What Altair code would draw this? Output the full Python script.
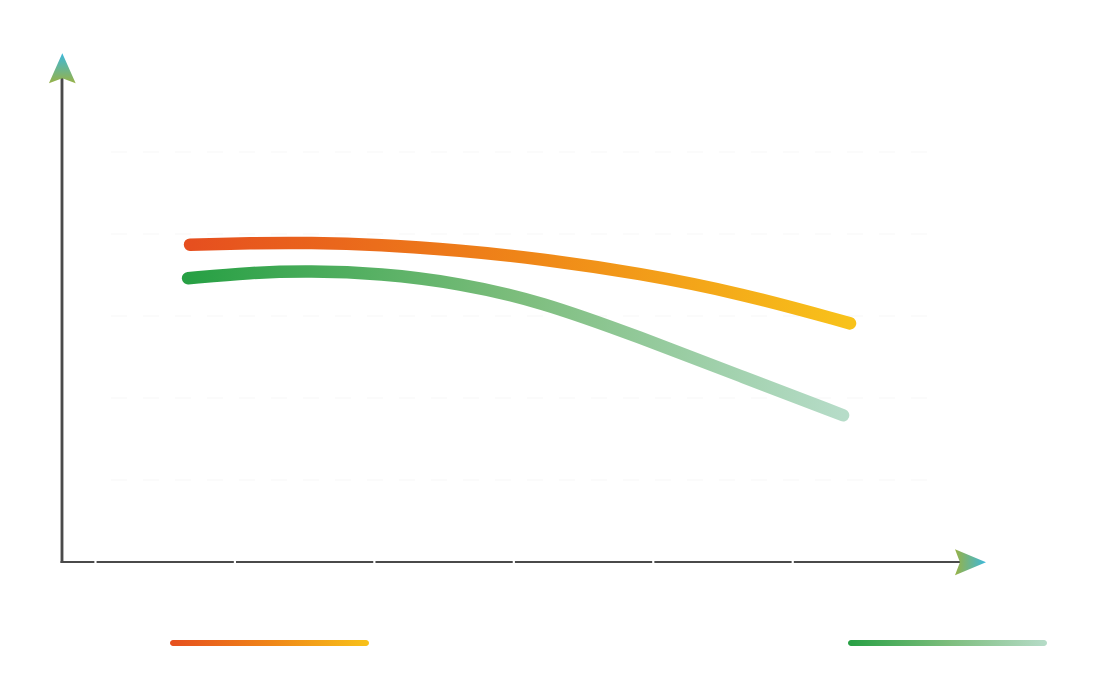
import altair as alt
import pandas as pd

# ---- data ----
x_pos = [1.678, 2.108, 2.538, 3.040, 3.614, 4.188, 4.905, 5.622, 6.411]
x_pos_green = [1.664, 2.108, 2.538, 3.040, 3.614, 4.188, 4.905, 5.622, 6.361]
orange_vals = [38.7, 38.9, 38.95, 38.7, 38.0, 37.0, 35.2, 32.8, 29.1]
green_vals = [34.6, 35.3, 35.5, 35.2, 34.0, 31.8, 27.4, 22.7, 17.9]
x_ticks = [1, 2, 3, 4, 5, 6]
y_grid = [10, 20, 30, 40, 50]

W, H = 912, 492
X_DOMAIN = [0.76, 7.3]
Y_DOMAIN = [0, 60]

xs = alt.Scale(domain=X_DOMAIN, nice=False, zero=False)
ys = alt.Scale(domain=Y_DOMAIN, nice=False, zero=False)

orange_df = pd.DataFrame({"x": x_pos, "y": orange_vals})
green_df = pd.DataFrame({"x": x_pos_green, "y": green_vals})
tick_df = pd.DataFrame({"x": x_ticks})
grid_df = pd.DataFrame({"y": y_grid})

def hgrad(c0, c1, cm=None):
    stops = [alt.GradientStop(color=c0, offset=0)]
    if cm:
        stops.append(alt.GradientStop(color=cm, offset=0.5))
    stops.append(alt.GradientStop(color=c1, offset=1))
    return alt.LinearGradient(gradient="linear", stops=stops, x1=0, x2=1, y1=0, y2=0)

def vgrad(c0, c1):
    return alt.LinearGradient(
        gradient="linear",
        stops=[alt.GradientStop(color=c0, offset=0), alt.GradientStop(color=c1, offset=1)],
        x1=0, x2=0, y1=0, y2=1,
    )

orange_grad = hgrad("#e64f1f", "#f8c21a", "#ef8518")
green_grad = hgrad("#27a044", "#b6dcc8", "#7cbd7c")

noaxis = alt.Axis(domain=False, ticks=False, labels=False, grid=False, title=None)

grid = alt.Chart(grid_df).mark_rule(color="#fafafa", strokeWidth=1.5, strokeDash=[16, 16]).encode(
    y=alt.Y("y:Q", scale=ys, axis=noaxis),
    x=alt.value(49), x2=alt.value(873),
)

y_axis_line = alt.Chart(grid_df).mark_rule(color="#4a4a4a", strokeWidth=2.2).encode(
    x=alt.value(0), y=alt.value(5), y2=alt.value(H + 1.1)
)
x_axis_line = alt.Chart(grid_df).mark_rule(color="#4a4a4a", strokeWidth=2.2).encode(
    x=alt.value(-1.1), x2=alt.value(905), y=alt.value(H)
)

tick_gaps = alt.Chart(tick_df).mark_rule(color="white", strokeWidth=2.2).encode(
    x=alt.X("x:Q", scale=xs, axis=noaxis),
    y=alt.datum(0.6, scale=ys), y2=alt.datum(-0.9),
)

orange_line = alt.Chart(orange_df).mark_line(
    stroke=orange_grad, strokeWidth=12.5, strokeCap="round", interpolate="basis"
).encode(x=alt.X("x:Q", scale=xs, axis=noaxis), y=alt.Y("y:Q", scale=ys, axis=noaxis))

green_line = alt.Chart(green_df).mark_line(
    stroke=green_grad, strokeWidth=12.5, strokeCap="round", interpolate="basis"
).encode(x=alt.X("x:Q", scale=xs, axis=noaxis), y=alt.Y("y:Q", scale=ys, axis=noaxis))

y_arrow = alt.Chart(tick_df.head(1)).mark_point(
    shape="M0,-1L0.89,1L0,0.67L-0.89,1Z", filled=True, size=900, opacity=1,
    fill=vgrad("#3cb8dc", "#98b246"), strokeWidth=0,
).encode(x=alt.value(0.3), y=alt.value(-1.7))

x_arrow = alt.Chart(tick_df.head(1)).mark_point(
    shape="M1,0L-1,0.84L-0.68,0L-1,-0.84Z", filled=True, size=961, opacity=1,
    fill=hgrad("#98b246", "#3cb8dc"), strokeWidth=0,
).encode(x=alt.value(908.5), y=alt.value(H + 0.3))

legend_orange = alt.Chart(tick_df.head(1)).mark_rect(
    fill=orange_grad, cornerRadius=3
).encode(x=alt.value(108), x2=alt.value(307), y=alt.value(570), y2=alt.value(576))

legend_green = alt.Chart(tick_df.head(1)).mark_rect(
    fill=green_grad, cornerRadius=3
).encode(x=alt.value(786), x2=alt.value(985), y=alt.value(570), y2=alt.value(576))

chart = alt.layer(
    grid, y_axis_line, x_axis_line, tick_gaps, orange_line, green_line,
    y_arrow, x_arrow, legend_orange, legend_green,
).properties(
    width=W, height=H,
    autosize="none",
    padding={"left": 62, "top": 70, "right": 1097 - 62 - W, "bottom": 679 - 70 - H},
    background="white",
).configure_view(stroke=None)

chart.save("out.html", embed_options={"renderer": "svg", "actions": False})
